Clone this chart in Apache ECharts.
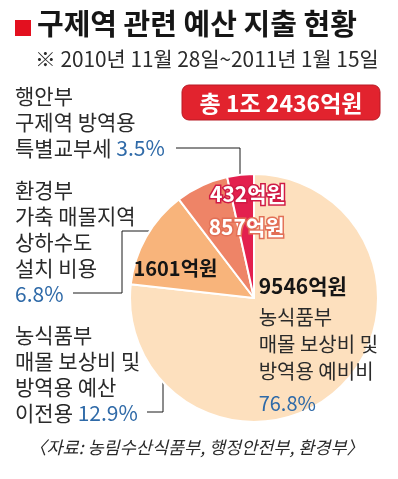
<!DOCTYPE html>
<html>
<head>
<meta charset="utf-8">
<script src="https://cdn.jsdelivr.net/npm/echarts@6/dist/echarts.min.js"></script>
<style>
html, body { margin: 0; padding: 0; background: #fff; }
#chart { width: 398px; height: 479px; }
</style>
</head>
<body>
<div id="chart"></div>
<script>
// 데이터
var titleText = '구제역 관련 예산 지출 현황';
var periodText = '※ 2010년 11월 28일~2011년 1월 15일';
var totalText = '총 1조 2436억원';
var sourceText = '〈자료: 농림수산식품부, 행정안전부, 환경부〉';

var amounts = [9546, 1601, 857, 432];           // 억원
var shares = ['76.8%', '12.9%', '6.8%', '3.5%'];
var agencies = ['농식품부', '농식품부', '환경부', '행안부'];
var uses = [
  ['매몰 보상비 및', '방역용 예비비'],
  ['매몰 보상비 및', '방역용 예산', '이전용'],
  ['가축 매몰지역', '상하수도', '설치 비용'],
  ['구제역 방역용', '특별교부세']
];
var shareOnNewLine = [true, false, true, false];

var FONT = '"Noto Sans CJK KR", "Noto Sans", sans-serif';
var colors = ['#fde0be', '#f8b47b', '#ee8467', '#e3204e'];
var cx = 254, cy = 298, R = 124;

function descLines(i) {
  var lines = [agencies[i]].concat(uses[i]);
  if (shareOnNewLine[i]) {
    lines.push('{p|' + shares[i] + '}');
  } else {
    lines[lines.length - 1] += ' {p|' + shares[i] + '}';
  }
  return lines;
}

// 왼쪽 설명 텍스트 (3.5%, 6.8%, 12.9%)
function sideNote(i, top) {
  return {
    type: 'text', left: 15, top: top,
    style: {
      text: descLines(i).join('\n'),
      font: '21px ' + FONT, fill: '#2a2a2a', lineHeight: 26,
      rich: { p: { font: '21px ' + FONT, fill: '#2f6aa8', lineHeight: 26 } }
    }
  };
}

function leader(points) {
  var last = points[points.length - 1];
  return [
    { type: 'polyline', shape: { points: points }, style: { stroke: '#1a1a1a', lineWidth: 1, fill: null } },
    { type: 'circle', shape: { cx: last[0], cy: last[1], r: 2.3 }, style: { fill: '#fff', stroke: '#1a1a1a', lineWidth: 1 } }
  ];
}

var labelOffsets = [[21, -6], [-22, 2], [20, -12], [1, -39]];

var pieData = amounts.map(function (v, i) {
  var lbl;
  if (i === 0) {
    var lines = descLines(0).map(function (s) {
      return s.charAt(0) === '{' ? s : '{t|' + s + '}';
    });
    lbl = {
      formatter: ['{v|' + v + '억원}'].concat(lines).join('\n'),
      offset: labelOffsets[i],
      rich: {
        v: { fontSize: 21, fontWeight: 'bold', fontFamily: FONT, color: '#151515', align: 'left', lineHeight: 36 },
        t: { fontSize: 20, fontFamily: FONT, color: '#2a2a2a', align: 'left', lineHeight: 27 },
        p: { fontSize: 20, fontFamily: FONT, color: '#2f6aa8', align: 'left', lineHeight: 28, verticalAlign: 'bottom' }
      }
    };
  } else if (i === 1) {
    lbl = { formatter: v + '억원', offset: labelOffsets[i], color: '#151515', fontWeight: 'bold', fontSize: 20 };
  } else {
    lbl = {
      formatter: v + '억원', offset: labelOffsets[i], color: '#fff', fontWeight: 'bold', fontSize: 21,
      textBorderColor: i === 2 ? '#e26f56' : '#d01a45', textBorderWidth: 3
    };
  }
  return { value: v, name: agencies[i], itemStyle: { color: colors[i] }, label: lbl };
});

var chart = echarts.init(document.getElementById('chart'), null, { renderer: 'canvas' });
chart.setOption({
  backgroundColor: '#fff',
  animation: false,
  textStyle: { fontFamily: FONT },
  series: [{
    type: 'pie',
    center: [cx, cy],
    radius: [0, R],
    startAngle: 90,
    clockwise: true,
    label: { show: true, position: 'inside', fontFamily: FONT },
    labelLine: { show: false },
    itemStyle: { borderColor: '#fff', borderWidth: 2 },
    emphasis: { disabled: true },
    data: pieData
  }],
  graphic: [
    { type: 'rect', shape: { x: 15, y: 20, width: 16, height: 16 }, style: { fill: '#e3101f' } },
    { type: 'text', left: 37, top: 9, style: { text: titleText, font: 'bold 29px ' + FONT, fill: '#161616' } },
    { type: 'text', left: 35, top: 49, style: { text: periodText, font: '20.8px ' + FONT, fill: '#2a2a2a' } },
    { type: 'rect', shape: { x: 182, y: 85, width: 198, height: 35, r: 7 }, style: { fill: '#e2232e', stroke: '#b81b24', lineWidth: 1 } },
    { type: 'text', x: 281, y: 103, style: { text: totalText, font: 'bold 23px ' + FONT, fill: '#fff', align: 'center', verticalAlign: 'middle' } },
    sideNote(3, 83),
    sideNote(2, 177),
    sideNote(1, 322),
    { type: 'text', left: 29, top: 439, style: { text: sourceText, font: 'italic 17.5px ' + FONT, fill: '#2a2a2a' } }
  ]
    .concat(leader([[176, 148], [240, 148], [240, 177]]))
    .concat(leader([[73, 293], [122, 293], [122, 231], [207, 231]]))
    .concat(leader([[147, 412], [163, 412], [163, 283]]))
});
</script>
</body>
</html>
